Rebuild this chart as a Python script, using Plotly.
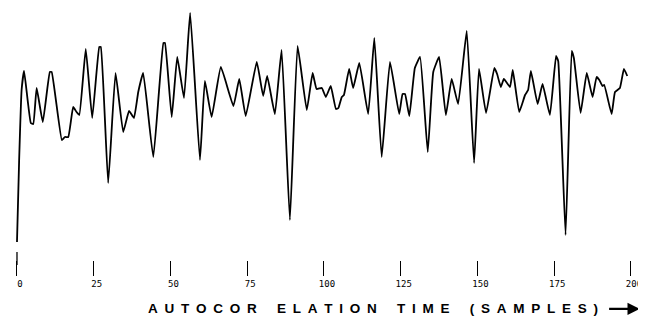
import plotly.graph_objects as go

# Lag (samples) and autocorrelation value (vertices of the trace)
lags = [0.0, 0.7, 1.5, 2.3, 4.5, 5.3, 6.4, 8.4, 10.7, 11.3, 14.6, 15.6, 16.7, 18.3, 19.4, 20.3,
        22.4, 24.5, 26.8, 27.3, 29.7, 32.1, 34.6, 36.5, 38.1, 39.5, 41.1, 44.4, 47.7, 48.2,
        50.4, 52.2, 54.4, 56.4, 59.6, 61.2, 63.4, 66.4, 70.5, 72.4, 74.5, 78.1, 80.2, 81.5,
        84.0, 86.2, 88.9, 91.4, 94.4, 96.3, 97.6, 99.3, 100.6, 102.2, 103.9, 104.7, 105.8,
        106.5, 108.2, 109.5, 111.5, 114.4, 116.4, 118.8, 121.5, 124.5, 125.6, 126.4, 127.8,
        129.6, 131.3, 133.8, 135.6, 137.5, 139.7, 141.6, 143.7, 146.5, 148.9, 150.5, 152.8,
        155.5, 156.4, 157.6, 158.6, 160.6, 161.5, 163.6, 165.5, 166.5, 167.4, 169.6, 171.2,
        173.6, 175.6, 176.3, 178.7, 180.7, 181.4, 183.6, 185.6, 187.5, 188.8, 189.7, 190.7,
        191.3, 193.7, 194.8, 196.4, 197.7, 198.8]
values = [-1.42, -0.60, 0.10, 0.29, -0.23, -0.24, 0.12, -0.22, 0.28, 0.28, -0.40, -0.37, -0.37,
          -0.07, -0.12, -0.15, 0.51, -0.18, 0.53, 0.53, -0.83, 0.27, -0.32, -0.11, -0.18, 0.08,
          0.27, -0.57, 0.57, 0.57, -0.17, 0.43, 0.02, 0.87, -0.60, 0.19, -0.17, 0.33, -0.06,
          0.21, -0.16, 0.38, 0.04, 0.24, -0.14, 0.50, -1.20, 0.54, -0.10, 0.27, 0.11, 0.12,
          0.03, 0.14, -0.09, -0.08, 0.03, 0.05, 0.31, 0.12, 0.37, -0.14, 0.62, -0.57, 0.38,
          -0.14, 0.06, 0.06, -0.16, 0.32, 0.43, -0.52, 0.28, 0.43, -0.15, 0.21, -0.04, 0.69,
          -0.63, 0.31, -0.13, 0.32, 0.26, 0.13, 0.21, 0.13, 0.30, -0.12, 0.05, 0.10, 0.29,
          -0.04, 0.16, -0.15, 0.44, 0.39, -1.35, 0.49, 0.42, -0.13, 0.27, 0.03, 0.23, 0.20,
          0.14, 0.15, -0.14, 0.08, 0.12, 0.31, 0.24]

tick_vals = [0, 25, 50, 75, 100, 125, 150, 175, 200]
tick_text = ["0", "25", "50", "75", "100", "125", "150", "175", "200"]
title_words = ["AUTOCOR", "ELATION", "TIME", "(SAMPLES)"]

SP = "\u2002"
x_title = (SP + "\u2003").join(SP.join(list(w)) for w in title_words)

fig = go.Figure()
fig.add_trace(go.Scatter(x=lags, y=values, mode="lines",
                         line=dict(color="black", width=1.8, shape="spline", smoothing=0.35),
                         hoverinfo="skip"))

fig.update_layout(
    width=638, height=315,
    margin=dict(l=0, r=0, t=0, b=63),
    paper_bgcolor="white", plot_bgcolor="white",
    showlegend=False,
    xaxis=dict(range=[-2.93, 204.9], showgrid=False, zeroline=False, showline=False,
               tickmode="array", tickvals=tick_vals, ticktext=tick_text,
               ticks="outside", ticklen=15, tickwidth=1.3, tickcolor="black",
               ticklabelshift=3,
               tickfont=dict(family="DejaVu Sans Mono", size=9, color="black")),
    yaxis=dict(range=[-1.6, 0.92], visible=False),
)

# taller tick at the origin
fig.add_shape(type="line", xref="x", yref="paper", x0=0, x1=0, y0=0.032, y1=-0.02,
              line=dict(color="black", width=1.3))

fig.add_annotation(text="<b>" + x_title + "</b>", xref="paper", yref="paper",
                   x=0.572, y=-0.194, showarrow=False, xanchor="center", yanchor="middle",
                   font=dict(family="Liberation Sans", size=13.5, color="black"))
fig.add_annotation(x=0.99, y=-0.194, ax=-32, ay=0, xref="paper", yref="paper",
                   text="", showarrow=True, arrowhead=2, arrowsize=1.1, arrowwidth=2.2,
                   arrowcolor="black")

fig.write_html("out.html")
